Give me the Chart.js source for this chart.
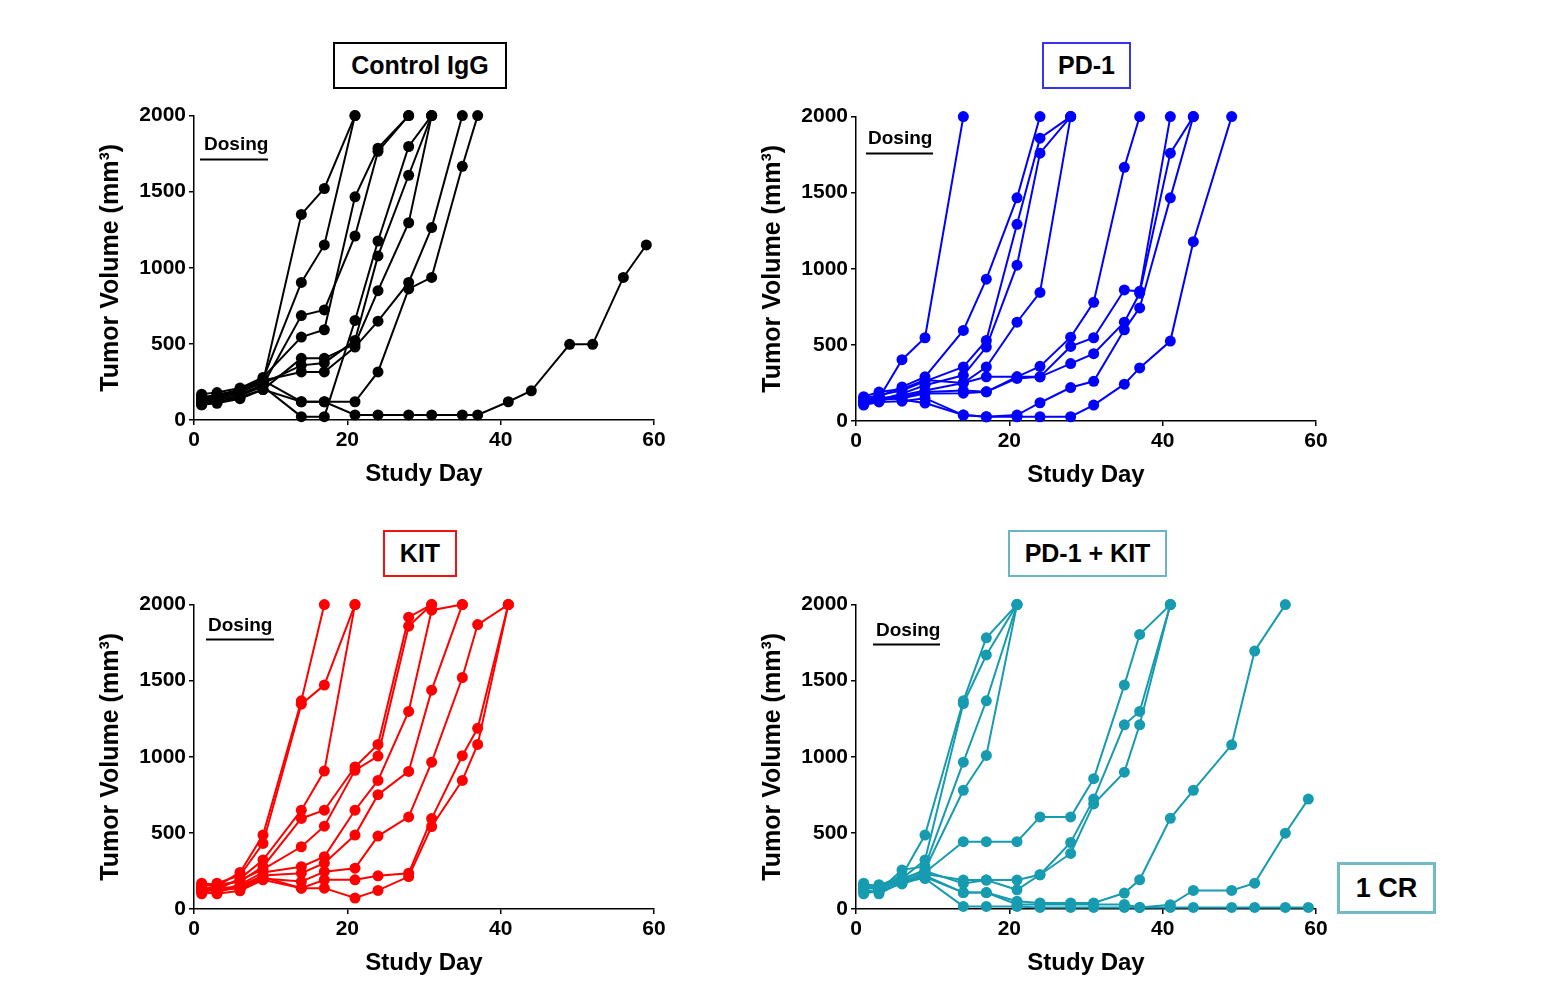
<!DOCTYPE html>
<html><head><meta charset="utf-8">
<script src="https://cdn.jsdelivr.net/npm/chart.js@4/dist/chart.umd.min.js"></script>
<style>
body{margin:0;background:#fff;width:1557px;height:990px;position:relative;overflow:hidden;font-family:"Liberation Sans",Arial,sans-serif;}
canvas{position:absolute;}
.tbox{position:absolute;box-sizing:border-box;border:2px solid #000;font-weight:bold;font-size:25px;text-align:center;color:#000;}
</style></head><body>
<div class="tbox" style="left:333px;top:42px;width:174px;height:47px;line-height:43px;border-color:#000;">Control IgG</div>
<div class="tbox" style="left:1042px;top:42px;width:89px;height:47px;line-height:43px;border-color:#3434f0;">PD-1</div>
<div class="tbox" style="left:383px;top:530px;width:74px;height:47px;line-height:43px;border-color:#f01010;">KIT</div>
<div class="tbox" style="left:1008px;top:530px;width:159px;height:47px;line-height:43px;border-color:#6ab4c4;">PD-1 + KIT</div>
<div class="tbox" style="left:1337px;top:862px;width:99px;height:52px;line-height:46px;border:3px solid #74b9c8;font-size:27px;">1 CR</div>

<canvas id="c1" width="600" height="400" style="left:90px;top:100px;"></canvas>
<canvas id="c2" width="600" height="400" style="left:752px;top:101px;"></canvas>
<canvas id="c3" width="600" height="400" style="left:90px;top:589px;"></canvas>
<canvas id="c4" width="600" height="400" style="left:752px;top:589px;"></canvas>
<script>
// Study days of measurement
const studyDays = [1,3,6,9,14,17,21,24,28,31,35,37,41,44,49,52,56,59];
const xTicks = [0,20,40,60];
const yTicks = [0,500,1000,1500,2000];

// Tumor volumes (mm3) per mouse, aligned with studyDays
const controlIgG = [
  [130,150,180,250,1351,1521,2000],
  [150,160,200,270,904,1150,2000],
  [120,140,170,230,686,723,1209,1765,2000],
  [170,180,210,280,545,593,1466,1786,2000],
  [110,130,160,220,22,22,654,1176,1797,2000],
  [140,170,190,240,359,375,523,1078,1608,2000],
  [100,120,150,200,405,405,500,850,1296,2000],
  [160,150,190,260,120,120,120,316,861,937,1667,2000],
  [130,160,200,260,316,316,479,649,904,1264,2000],
  [100,110,140,200,120,120,33,33,33,33,33,33,120,192,497,497,937,1150]
];
const pd1 = [
  [120,150,403,547,2000],
  [140,160,224,290,595,932,1466,2000],
  [150,170,200,260,355,529,1292,1858,2000],
  [130,140,180,235,300,486,1024,1760,2000],
  [160,190,210,270,250,355,649,845,2000],
  [110,130,170,200,250,290,290,359,551,780,1667,2000],
  [140,150,160,190,200,192,290,290,490,547,861,852,2000],
  [120,140,150,180,183,192,280,290,377,442,649,839,1760,2000],
  [105,125,130,150,39,28,39,120,220,261,599,743,1466,2000],
  [130,160,140,118,39,28,28,28,28,105,242,349,525,1178,2000]
];
const kit = [
  [130,150,240,486,1368,2000],
  [150,170,220,431,1346,1471,2000],
  [110,130,200,322,649,906,2000],
  [170,160,180,278,595,649,933,1081,1917,2000],
  [120,140,190,260,409,544,911,1005,1858,2000],
  [140,120,160,240,278,344,649,845,1298,1963,2000],
  [100,110,150,220,235,301,486,751,904,1438,2000],
  [160,150,130,200,180,245,268,479,605,965,1521,1869,2000],
  [110,100,120,192,137,192,192,218,235,594,1007,1187,2000],
  [130,120,140,210,137,137,72,122,213,542,845,1081,2000]
];
const pd1Kit = [
  [130,150,220,486,1368,1782,2000],
  [150,160,200,322,1350,1669,2000],
  [110,120,257,280,965,1368,2000],
  [170,140,190,260,780,1009,2000],
  [140,130,180,240,442,442,442,605,605,856,1471,1804,2000],
  [120,110,170,230,190,190,190,225,437,722,1210,1298,2000],
  [160,150,200,250,168,190,126,225,365,690,899,1210,2000],
  [100,120,165,210,108,108,51,40,40,40,105,192,596,780,1079,1695,2000],
  [130,100,175,220,108,108,30,30,30,30,30,10,28,122,122,170,498,722],
  [150,130,185,200,17,17,17,10,10,10,10,10,10,10,10,10,10,10]
];

const FONT = "'Liberation Sans', Arial, sans-serif";

const dosingPlugin = {
  id: 'dosing',
  afterDraw(chart, args, opts) {
    const {ctx, chartArea} = chart;
    ctx.save();
    ctx.fillStyle = '#000';
    ctx.font = 'bold 19px ' + FONT;
    ctx.textBaseline = 'middle';
    ctx.textAlign = 'left';
    ctx.fillText('Dosing', chartArea.left + opts.tx, chartArea.top + opts.ty);
    ctx.strokeStyle = '#000';
    ctx.lineWidth = 2;
    ctx.beginPath();
    ctx.moveTo(chartArea.left + opts.lx1, chartArea.top + opts.ly);
    ctx.lineTo(chartArea.left + opts.lx2, chartArea.top + opts.ly);
    ctx.stroke();
    ctx.restore();
  }
};

function makePanel(id, mice, color, dos) {
  const datasets = mice.map(vals => ({
    data: vals.map((v, i) => ({x: studyDays[i], y: v})),
    borderColor: color,
    backgroundColor: color,
    borderWidth: 2,
    pointRadius: 5.5,
    pointBorderWidth: 0,
    pointHoverRadius: 5.5,
    clip: false,
    tension: 0
  }));
  const axisCommon = {
    grid: {display: true, drawOnChartArea: false, drawTicks: true, tickLength: 5, color: '#000', lineWidth: 1.5},
    border: {display: true, color: '#000', width: 1.5}
  };
  new Chart(document.getElementById(id), {
    type: 'line',
    data: {datasets},
    options: {
      responsive: false,
      animation: false,
      events: [],
      layout: {padding: {left: 0, right: 36, top: 14, bottom: 0}},
      plugins: {legend: {display: false}, tooltip: {enabled: false}, dosing: dos},
      scales: {
        x: Object.assign({
          type: 'linear', min: 0, max: 60,
          afterBuildTicks: s => { s.ticks = xTicks.map(v => ({value: v})); },
          afterFit: s => { s.height = 80; },
          ticks: {color: '#000', font: {family: FONT, size: 21, weight: 'bold'}, padding: 3, maxRotation: 0, callback: v => String(v)},
          title: {display: true, text: 'Study Day', color: '#000', font: {family: FONT, size: 24, weight: 'bold'}, padding: {top: 0, bottom: 11}}
        }, axisCommon),
        y: Object.assign({
          type: 'linear', min: 0, max: 2000,
          afterBuildTicks: s => { s.ticks = yTicks.map(v => ({value: v})); },
          afterFit: s => { s.width = 104; },
          ticks: {color: '#000', font: {family: FONT, size: 21, weight: 'bold'}, padding: 3, callback: v => String(v)},
          title: {display: true, text: 'Tumor Volume (mm³)', color: '#000', font: {family: FONT, size: 25, weight: 'bold'}, padding: {top: 6, bottom: 0}}
        }, axisCommon)
      }
    },
    plugins: [dosingPlugin]
  });
}

makePanel('c1', controlIgG, '#000000', {tx: 10, ty: 29, lx1: 6, lx2: 74, ly: 44});
makePanel('c2', pd1, '#0000ff', {tx: 12, ty: 22, lx1: 10, lx2: 77, ly: 37});
makePanel('c3', kit, '#ff0000', {tx: 14, ty: 21, lx1: 12, lx2: 80, ly: 35});
makePanel('c4', pd1Kit, '#169bb0', {tx: 20, ty: 26, lx1: 17, lx2: 84, ly: 40});
</script>
</body></html>
